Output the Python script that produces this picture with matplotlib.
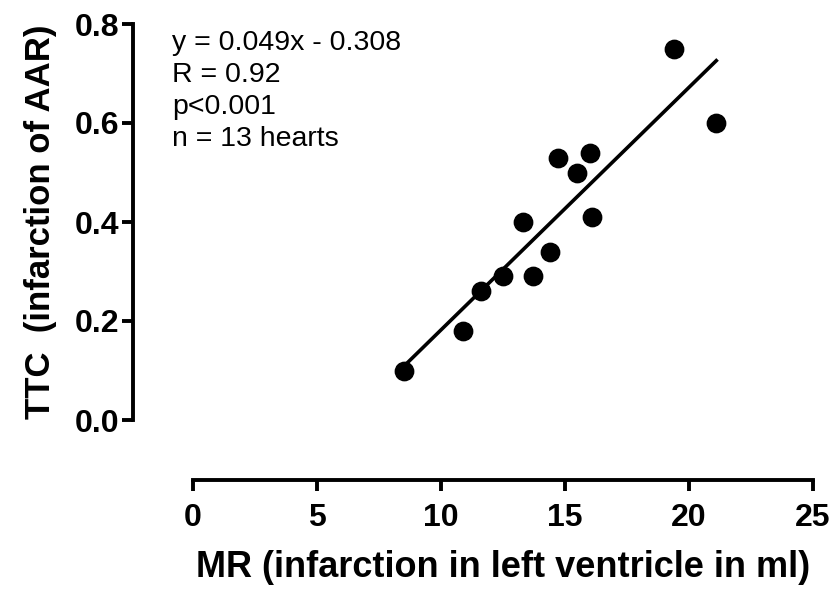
import numpy as np
import matplotlib.pyplot as plt

# MR (ml) vs TTC (fraction of AAR), 13 hearts
mr = [8.5, 10.9, 11.6, 12.5, 13.3, 13.7, 14.4, 14.7, 15.5, 16.0, 16.1, 19.4, 21.1]
ttc = [0.10, 0.18, 0.26, 0.29, 0.40, 0.29, 0.34, 0.53, 0.50, 0.54, 0.41, 0.75, 0.60]

slope = 0.049
intercept = -0.308
stats_lines = ["y = 0.049x - 0.308", "R = 0.92", "p<0.001", "n = 13 hearts"]

x_ticks = [0, 5, 10, 15, 20, 25]
y_ticks = [0.0, 0.2, 0.4, 0.6, 0.8]

plt.rcParams['font.family'] = ['Liberation Sans', 'DejaVu Sans']

W, H = 837, 589
fig = plt.figure(figsize=(W / 100, H / 100), dpi=100)
ax = fig.add_axes([193 / W, 1 - 420 / H, 620 / W, 396 / H])

ax.scatter(mr, ttc, s=175, color='black', zorder=3, clip_on=False)
xfit = np.array([min(mr), max(mr)])
ax.plot(xfit, slope * xfit + intercept, color='black', lw=2.6, clip_on=False)

ax.set_xlim(0, 25)
ax.set_ylim(0, 0.8)
ax.set_xticks(x_ticks)
ax.set_yticks(y_ticks)
ax.set_xticklabels([str(t) for t in x_ticks])
ax.set_yticklabels(['%.1f' % t for t in y_ticks])

for s in ['top', 'right']:
    ax.spines[s].set_visible(False)
ax.spines['left'].set_position(('outward', 43))
ax.spines['bottom'].set_position(('outward', 43))
ax.spines['left'].set_bounds(0, 0.8)
ax.spines['bottom'].set_bounds(0, 25)
for s in ['left', 'bottom']:
    ax.spines[s].set_linewidth(2.8)

ax.tick_params(axis='both', width=2.8, length=8, labelsize=23)
ax.tick_params(axis='x', pad=9)
ax.tick_params(axis='y', pad=2)
for lab in ax.get_xticklabels() + ax.get_yticklabels():
    lab.set_fontweight('bold')

ax.set_xlabel('MR (infarction in left ventricle in ml)', fontsize=26, fontweight='bold', labelpad=12)
ax.set_ylabel('TTC  (infarction of AAR)', fontsize=25, fontweight='bold', labelpad=13)

for i, line in enumerate(stats_lines):
    fig.text(172 / W, 1 - (43 + 32 * i) / H, line, fontsize=20.5, va='center', ha='left')

fig.savefig('out.png', dpi=100)
